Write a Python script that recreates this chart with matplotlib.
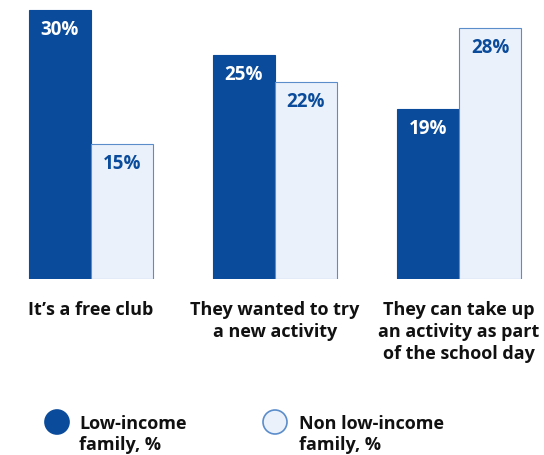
import matplotlib
matplotlib.use("Agg")
import matplotlib.pyplot as plt
from matplotlib.patches import Circle
import numpy as np

categories = ["It\u2019s a free club",
              "They wanted to try\na new activity",
              "They can take up\nan activity as part\nof the school day"]
low_income = [30, 25, 19]
non_low_income = [15, 22, 28]
series_names = ["Low-income\nfamily, %", "Non low-income\nfamily, %"]

DARK = "#0A4B9B"
LIGHT = "#EAF1FA"
EDGE = "#5B8DCB"
FONT = ["Open Sans", "DejaVu Sans"]
FS = 13

fig = plt.figure(figsize=(5.44, 4.56), dpi=100)
ax = fig.add_axes([0, 176 / 456, 1, 280 / 456])

x = np.arange(len(categories))
w = 0.337
b1 = ax.bar(x - w / 2, low_income, w, color=DARK, edgecolor=DARK, linewidth=0.8)
b2 = ax.bar(x + w / 2, non_low_income, w, color=LIGHT, edgecolor=EDGE, linewidth=0.8)

ax.set_xlim(-91 / 184, (544 - 91) / 184)
ax.set_ylim(0, 280 / 8.97)
ax.axis("off")

for bars, vals, col in ((b1, low_income, "white"), (b2, non_low_income, DARK)):
    for rect, v in zip(bars, vals):
        ax.annotate(f"{v}%", (rect.get_x() + rect.get_width() / 2, v),
                    xytext=(0, -19), textcoords="offset pixels",
                    ha="center", va="center", color=col, fontsize=13.5,
                    fontweight="bold", family=FONT)

for xi, cat in zip(x, categories):
    ax.annotate(cat, (xi, 0), xytext=(0, -21), textcoords="offset pixels",
                ha="center", va="top", fontsize=FS, fontweight="bold",
                color="#111111", family=FONT, linespacing=1.28)

# legend: circle swatches beside two-line labels
H = 456
swatches = [(57, DARK, DARK, 79), (275, LIGHT, EDGE, 299)]
for (cx, fc, ec, tx), name in zip(swatches, series_names):
    fig.add_artist(Circle((cx / 100, (H - 423) / 100), 0.12,
                          transform=fig.dpi_scale_trans,
                          facecolor=fc, edgecolor=ec, linewidth=1.2))
    fig.text(tx / 544, 1 - 415 / H, name, ha="left", va="top", fontsize=FS,
             fontweight="bold", color="#111111", family=FONT, linespacing=1.25)

fig.savefig("out.png", dpi=100)
